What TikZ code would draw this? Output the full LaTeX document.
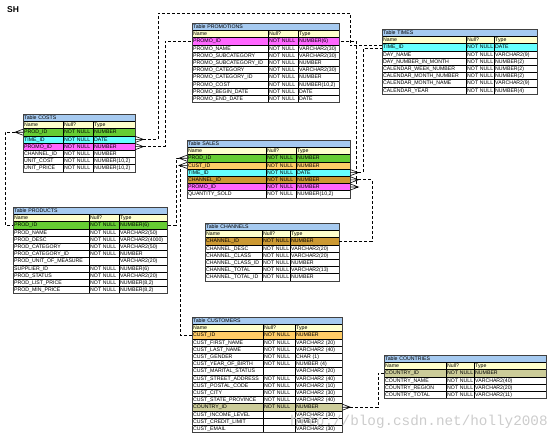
\documentclass[tikz,border=0pt]{standalone}
\usepackage{fontspec}
\setmainfont{Liberation Sans}
\newfontfamily\wmfont{Liberation Mono}
\usetikzlibrary{calc}
\definecolor{titleblue}{RGB}{166,202,240}
\definecolor{headyellow}{RGB}{255,255,204}
\definecolor{prodgreen}{RGB}{102,204,51}
\definecolor{timecyan}{RGB}{102,255,255}
\definecolor{promomagenta}{RGB}{255,102,255}
\definecolor{custorange}{RGB}{255,204,102}
\definecolor{chanbrown}{RGB}{204,153,51}
\definecolor{countrykhaki}{RGB}{204,204,153}

\tikzset{
  cell/.style={draw=black, line width=0.4pt, anchor=north west, inner xsep=1pt, inner ysep=0pt,
    minimum height=7.2pt, font=\fontsize{5.2}{6}\selectfont, text height=3.8pt, text depth=0.4pt, align=left},
  titlecell/.style={cell, fill=titleblue},
  frame/.style={draw=black!75, line width=0.9pt},
  fk/.style={draw=black, line width=1pt, dash pattern=on 3pt off 2pt},
  crowL/.pic={\draw[line width=0.6pt] (0,-3) -- (-8,0) -- (0,3) (0,0) -- (-8,0);},
  crowR/.pic={\draw[line width=0.6pt] (0,-3) -- (8,0) -- (0,3) (0,0) -- (8,0);},
}

% one table: name, x, y, column widths, title, rows
\newcommand{\dbtable}[8]{%
  \pgfmathsetmacro{\wa}{#4-2}%
  \pgfmathsetmacro{\wb}{#5-2}%
  \pgfmathsetmacro{\wc}{#6-2}%
  \pgfmathsetmacro{\wt}{#4+#5+#6-2}%
  \node[titlecell, text width=\wt pt] (#1-title) at (#2,#3) {\mbox{Table #7}};
  \foreach \nm/\nl/\ty/\cl [count=\i from 0] in {Name/Null?/Type/headyellow,#8}{
    \pgfmathsetmacro{\ry}{#3+7.2*(\i+1)}
    \node[cell, fill=\cl, text width=\wa pt] (#1-\i-a) at (#2,\ry) {\mbox{\nm}};
    \node[cell, fill=\cl, text width=\wb pt] (#1-\i-b) at (#2+#4,\ry) {\mbox{\nl}};
    \node[cell, fill=\cl, text width=\wc pt] (#1-\i-c) at (#2+#4+#5,\ry) {\mbox{\ty}};
    \xdef\lastrow{\i}
  }%
  \draw[frame] (#1-title.north west) rectangle (#1-\lastrow-c.south east);
}

\begin{document}
\begin{tikzpicture}[x=1pt,y=-1pt]
  \useasboundingbox (0,0) rectangle (556,439);
  \node[anchor=north west, inner sep=0pt, font=\bfseries\fontsize{8.5}{10}\selectfont] (sh) at (7,6) {SH};

  \dbtable{costs}{23}{114}{40}{30}{42}{COSTS}{%
    PROD\_ID/NOT NULL/NUMBER/prodgreen,
    TIME\_ID/NOT NULL/DATE/timecyan,
    PROMO\_ID/NOT NULL/NUMBER/promomagenta,
    CHANNEL\_ID/NOT NULL/NUMBER/white,
    UNIT\_COST/NOT NULL/{NUMBER(10,2)}/white,
    UNIT\_PRICE/NOT NULL/{NUMBER(10,2)}/white}

  \dbtable{promotions}{192}{23}{76}{30}{41}{PROMOTIONS}{%
    PROMO\_ID/NOT NULL/NUMBER(6)/promomagenta,
    PROMO\_NAME/NOT NULL/VARCHAR2(30)/white,
    PROMO\_SUBCATEGORY/NOT NULL/VARCHAR2(30)/white,
    PROMO\_SUBCATEGORY\_ID/NOT NULL/NUMBER/white,
    PROMO\_CATEGORY/NOT NULL/VARCHAR2(30)/white,
    PROMO\_CATEGORY\_ID/NOT NULL/NUMBER/white,
    PROMO\_COST/NOT NULL/{NUMBER(10,2)}/white,
    PROMO\_BEGIN\_DATE/NOT NULL/DATE/white,
    PROMO\_END\_DATE/NOT NULL/DATE/white}

  \dbtable{times}{382}{29}{84}{28}{43}{TIMES}{%
    TIME\_ID/NOT NULL/DATE/timecyan,
    DAY\_NAME/NOT NULL/VARCHAR2(9)/white,
    DAY\_NUMBER\_IN\_MONTH/NOT NULL/NUMBER(2)/white,
    CALENDAR\_WEEK\_NUMBER/NOT NULL/NUMBER(2)/white,
    CALENDAR\_MONTH\_NUMBER/NOT NULL/NUMBER(2)/white,
    CALENDAR\_MONTH\_NAME/NOT NULL/VARCHAR2(9)/white,
    CALENDAR\_YEAR/NOT NULL/NUMBER(4)/white}

  \dbtable{sales}{187}{140}{79}{30}{54}{SALES}{%
    PROD\_ID/NOT NULL/NUMBER/prodgreen,
    CUST\_ID/NOT NULL/NUMBER/custorange,
    TIME\_ID/NOT NULL/DATE/timecyan,
    CHANNEL\_ID/NOT NULL/NUMBER/chanbrown,
    PROMO\_ID/NOT NULL/NUMBER/promomagenta,
    QUANTITY\_SOLD/NOT NULL/{NUMBER(10,2)}/white}

  \dbtable{products}{13}{207}{76}{30}{48}{PRODUCTS}{%
    PROD\_ID/NOT NULL/NUMBER(6)/prodgreen,
    PROD\_NAME/NOT NULL/VARCHAR2(50)/white,
    PROD\_DESC/NOT NULL/VARCHAR2(4000)/white,
    PROD\_CATEGORY/NOT NULL/VARCHAR2(50)/white,
    PROD\_CATEGORY\_ID/NOT NULL/NUMBER/white,
    PROD\_UNIT\_OF\_MEASURE//VARCHAR2(20)/white,
    SUPPLIER\_ID/NOT NULL/NUMBER(6)/white,
    PROD\_STATUS/NOT NULL/VARCHAR2(20)/white,
    PROD\_LIST\_PRICE/NOT NULL/{NUMBER(8,2)}/white,
    PROD\_MIN\_PRICE/NOT NULL/{NUMBER(8,2)}/white}

  \dbtable{channels}{205}{223}{57}{28}{49}{CHANNELS}{%
    CHANNEL\_ID/NOT NULL/NUMBER/chanbrown,
    CHANNEL\_DESC/NOT NULL/VARCHAR2(20)/white,
    CHANNEL\_CLASS/NOT NULL/VARCHAR2(20)/white,
    CHANNEL\_CLASS\_ID/NOT NULL/NUMBER/white,
    CHANNEL\_TOTAL/NOT NULL/VARCHAR2(13)/white,
    CHANNEL\_TOTAL\_ID/NOT NULL/NUMBER/white}

  \dbtable{customers}{192}{317}{71}{32}{47}{CUSTOMERS}{%
    CUST\_ID/NOT NULL/NUMBER/custorange,
    CUST\_FIRST\_NAME/NOT NULL/VARCHAR2 (20)/white,
    CUST\_LAST\_NAME/NOT NULL/VARCHAR2 (40)/white,
    CUST\_GENDER/NOT NULL/CHAR (1)/white,
    CUST\_YEAR\_OF\_BIRTH/NOT NULL/NUMBER (4)/white,
    CUST\_MARITAL\_STATUS//VARCHAR2 (20)/white,
    CUST\_STREET\_ADDRESS/NOT NULL/VARCHAR2 (40)/white,
    CUST\_POSTAL\_CODE/NOT NULL/VARCHAR2 (10)/white,
    CUST\_CITY/NOT NULL/VARCHAR2 (30)/white,
    CUST\_STATE\_PROVINCE/NOT NULL/VARCHAR2 (40)/white,
    COUNTRY\_ID/NOT NULL/NUMBER/countrykhaki,
    CUST\_INCOME\_LEVEL//VARCHAR2 (30)/white,
    CUST\_CREDIT\_LIMIT//NUMBER/white,
    CUST\_EMAIL//VARCHAR2 (30)/white}

  \dbtable{countries}{384}{355}{62}{28}{72}{COUNTRIES}{%
    COUNTRY\_ID/NOT NULL/NUMBER/countrykhaki,
    COUNTRY\_NAME/NOT NULL/VARCHAR2(40)/white,
    COUNTRY\_REGION/NOT NULL/VARCHAR2(20)/white,
    COUNTRY\_TOTAL/NOT NULL/VARCHAR2(11)/white}

  % bends of the foreign key lines
  \coordinate (prodlane) at (5,0);
  \coordinate (timetop) at (158,13);
  \coordinate (timedown) at (350,13);
  \coordinate (promolane) at (165,0);
  \coordinate (sprodlane) at (176,0);
  \coordinate (custlane) at (180,0);
  \coordinate (stimelane) at (363,0);
  \coordinate (chanlane) at (372,0);
  \coordinate (spromolane) at (356,0);
  \coordinate (countrylane) at (378,0);

  % crow's feet on the many side
  \pic at (costs-1-a.west) {crowL};
  \pic at (costs-2-c.east) {crowR};
  \pic at (costs-3-c.east) {crowR};
  \pic at (sales-1-a.west) {crowL};
  \pic at (sales-2-a.west) {crowL};
  \pic at (sales-3-c.east) {crowR};
  \pic at (sales-4-c.east) {crowR};
  \pic at (sales-5-c.east) {crowR};
  \pic at (customers-11-c.east) {crowR};

  \draw[fk] ([xshift=-8pt]costs-1-a.west) -| (prodlane |- products-1-a.west) -- (products-1-a.west);
  \draw[fk] ([xshift=8pt]costs-2-c.east) -| (timetop) -- (timedown) |- ([yshift=1.5pt]times-1-a.west);
  \draw[fk] ([xshift=8pt]costs-3-c.east) -| (promolane |- promotions-1-a.west) -- (promotions-1-a.west);
  \draw[fk] ([xshift=-8pt]sales-1-a.west) -| (sprodlane |- products-1-c.east) -- (products-1-c.east);
  \draw[fk] ([xshift=-8pt]sales-2-a.west) -| (custlane |- customers-1-a.west) -- (customers-1-a.west);
  \draw[fk] ([xshift=8pt]sales-3-c.east) -| ([yshift=-1.5pt]stimelane |- times-1-a.west) -- ([yshift=-1.5pt]times-1-a.west);
  \draw[fk] ([xshift=8pt]sales-4-c.east) -| (chanlane |- channels-1-c.east) -- (channels-1-c.east);
  \draw[fk] ([xshift=8pt]sales-5-c.east) -| (spromolane |- promotions-1-c.east) -- (promotions-1-c.east);
  \draw[fk] ([xshift=8pt]customers-11-c.east) -| (countrylane |- countries-1-a.west) -- (countries-1-a.west);

  \node[anchor=base west, inner sep=0pt, text=black!20, font=\wmfont\fontsize{14.3}{16}\selectfont] (wm) at (290,425) {http://blog.csdn.net/holly2008};
\end{tikzpicture}
\end{document}
